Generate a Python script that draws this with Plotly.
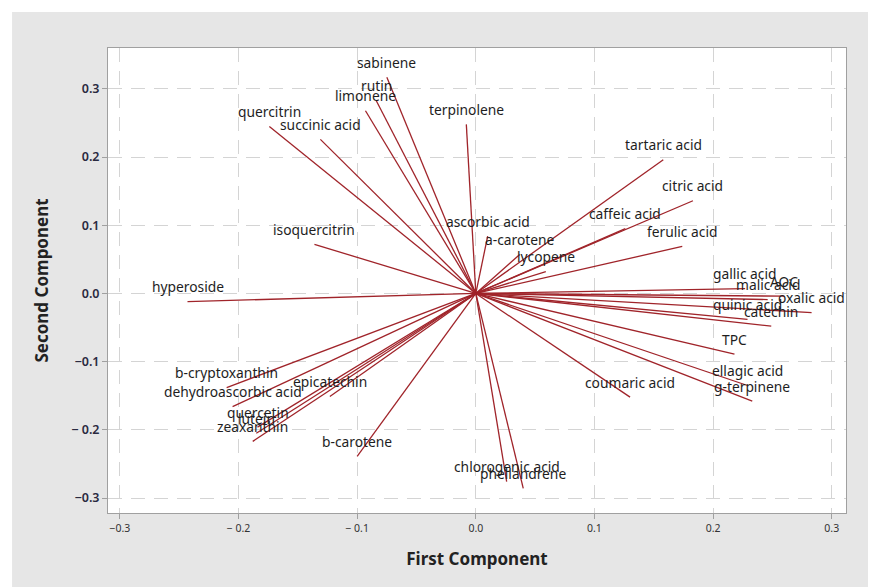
import plotly.graph_objects as go

variables = [
    "sabinene", "rutin", "limonene", "quercitrin", "succinic acid", "terpinolene",
    "tartaric acid", "citric acid", "caffeic acid", "ferulic acid", "ascorbic acid",
    "a-carotene", "lycopene", "isoquercitrin", "hyperoside", "gallic acid",
    "malic acid", "AOC", "oxalic acid", "quinic acid", "catechin", "TPC",
    "ellagic acid", "g-terpinene", "coumaric acid", "chlorogenic acid",
    "phellandrene", "b-carotene", "zeaxanthin", "lutein", "quercetin",
    "epicatechin", "dehydroascorbic acid", "b-cryptoxanthin",
]
first_component = [
    -0.075, -0.084, -0.093, -0.174, -0.131, -0.008,
    0.158, 0.183, 0.126, 0.174, 0.010,
    0.037, 0.059, -0.136, -0.243, 0.227,
    0.246, 0.260, 0.283, 0.229, 0.249, 0.218,
    0.229, 0.233, 0.130, 0.026,
    0.040, -0.100, -0.188, -0.185, -0.184,
    -0.123, -0.205, -0.210,
]
second_component = [
    0.317, 0.283, 0.268, 0.245, 0.226, 0.248,
    0.196, 0.136, 0.095, 0.069, 0.084,
    0.057, 0.032, 0.072, -0.012, 0.007,
    -0.009, -0.004, -0.028, -0.038, -0.048, -0.089,
    -0.135, -0.158, -0.152, -0.276,
    -0.286, -0.239, -0.217, -0.205, -0.196,
    -0.151, -0.166, -0.138,
]
tick_values = [-0.3, -0.2, -0.1, 0.0, 0.1, 0.2, 0.3]
x_tick_labels = ["\u22120.3", "\u2212 0.2", "\u2212 0.1", "0.0", "0.1", "0.2", "0.3"]
y_tick_labels = ["\u22120.3", "\u2212 0.2", "\u22120.1", "0.0", "0.1", "0.2", "0.3"]

LINE = "#a0242a"
FONT = "Noto Sans"
PANEL = "#e6e6e6"

xs, ys = [], []
for x, y in zip(first_component, second_component):
    xs += [0, x, None]
    ys += [0, y, None]

fig = go.Figure()
fig.add_trace(go.Scatter(x=xs, y=ys, mode="lines",
                         line=dict(color=LINE, width=1.3),
                         hoverinfo="skip", showlegend=False))

annotations = []
for name, x, y in zip(variables, first_component, second_component):
    annotations.append(dict(x=x, y=y, text=name, showarrow=False, yshift=15,
                            xanchor="center", yanchor="middle",
                            font=dict(family=FONT, size=13.8, color="#1e1e1e")))

axis_common = dict(
    showgrid=True, gridcolor="#d4d4d4", griddash="14px,9px", gridwidth=1,
    zeroline=False, showline=True, linecolor="#a0a0a0", linewidth=1, mirror=True,
    ticks="outside", ticklen=5, tickcolor="#a0a0a0",
)

fig.update_layout(
    width=868, height=579,
    margin=dict(l=100, r=30, t=40, b=74),
    paper_bgcolor=PANEL, plot_bgcolor="white",
    annotations=annotations,
    shapes=[
        dict(type="rect", xref="paper", yref="paper",
             x0=-0.14, x1=1.1, y0=1.0774, y1=1.1,
             fillcolor="white", line=dict(width=0), layer="below"),
        dict(type="rect", xref="paper", yref="paper",
             x0=-0.14, x1=-0.130, y0=-0.2, y1=1.1,
             fillcolor="white", line=dict(width=0), layer="below"),
    ],
    xaxis=dict(range=[-0.310, 0.312], tickvals=tick_values, ticktext=x_tick_labels,
               tickfont=dict(family=FONT, size=10.5, color="#333333"),
               title=dict(text="<b>First Component</b>", standoff=19,
                          font=dict(family=FONT, size=17, color="#222222")),
               **axis_common),
    yaxis=dict(range=[-0.322, 0.36], tickvals=tick_values, ticktext=y_tick_labels,
               tickfont=dict(family=FONT, size=12.5, color="#2a2a40", weight=600),
               title=dict(text="<b>Second Component</b>", standoff=18,
                          font=dict(family=FONT, size=17, color="#222222")),
               **axis_common),
)

fig.write_html("out.html")
